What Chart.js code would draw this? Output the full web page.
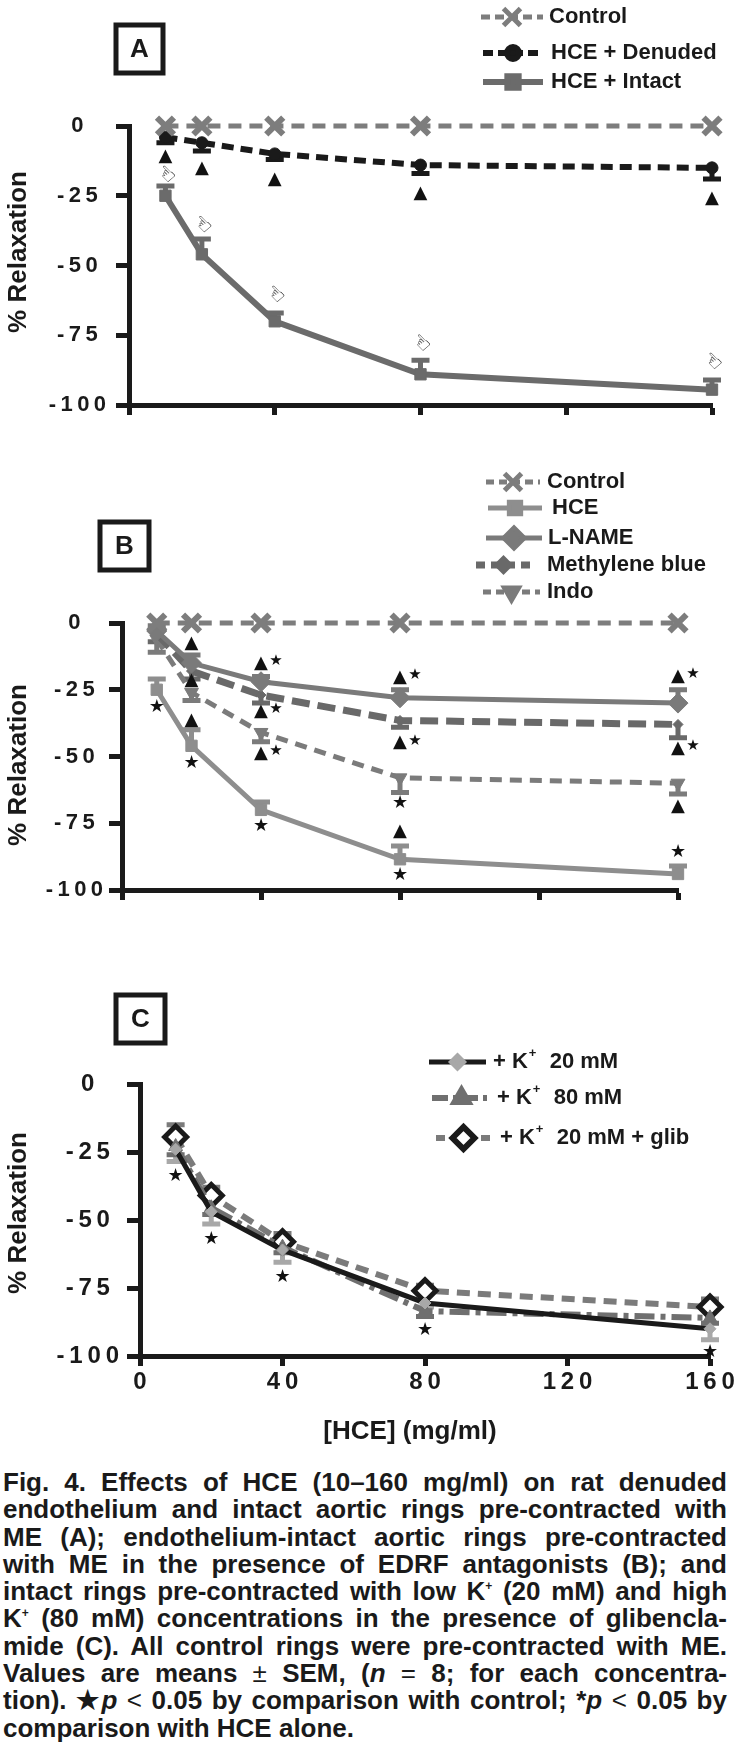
<!DOCTYPE html>
<html><head><meta charset="utf-8">
<script src="https://cdn.jsdelivr.net/npm/chart.js@4.4.1/dist/chart.umd.min.js"></script>
<style>
html,body{margin:0;padding:0;background:#fff;}
body{width:738px;height:1744px;position:relative;overflow:hidden;}
canvas{position:absolute;left:0;}
#cap{position:absolute;left:3px;top:1469px;width:724px;font-family:"Liberation Sans",Arial,sans-serif;font-weight:bold;font-size:26px;line-height:27.3px;color:#1a1a1a;}
#cap .j{text-align:justify;text-align-last:justify;}
#cap sup{font-size:12px;line-height:0;vertical-align:baseline;position:relative;top:-10px;}
#cap .m{font-weight:normal;}
</style></head><body>
<canvas id="cA" width="738" height="440" style="top:0"></canvas>
<canvas id="cB" width="738" height="470" style="top:440px"></canvas>
<canvas id="cC" width="738" height="550" style="top:910px"></canvas>
<div id="cap">
<div class="j">Fig. 4. Effects of HCE (10–160 mg/ml) on rat denuded</div>
<div class="j">endothelium and intact aortic rings pre-contracted with</div>
<div class="j">ME (A); endothelium-intact aortic rings pre-contracted</div>
<div class="j">with ME in the presence of EDRF antagonists (B); and</div>
<div class="j">intact rings pre-contracted with low K<sup>+</sup> (20 mM) and high</div>
<div class="j">K<sup>+</sup> (80 mM) concentrations in the presence of glibencla-</div>
<div class="j">mide (C). All control rings were pre-contracted with ME.</div>
<div class="j">Values are means <span class="m">±</span> SEM, (<i>n</i> <span class="m">=</span> 8; for each concentra-</div>
<div class="j">tion). ★<i>p</i> <span class="m">&lt;</span> 0.05 by comparison with control; *<i>p</i> <span class="m">&lt;</span> 0.05 by</div>
<div>comparison with HCE alone.</div>
</div>
<script>
// ---------- data ----------
const doses = [10, 20, 40, 80, 160];
const xTicks = [0, 40, 80, 120, 160];
const yTicks = [0, -25, -50, -75, -100];

// Panel A
const aControl = [0, 0, 0, 0, 0];
const aDenuded = [-4, -6, -10, -14, -15];
const aDenudedErr = [-6, -9, -12, -17, -19];
const aIntact = [-25, -46, -70, -89, -94.5];
const aIntactErr = [-21.5, -40.5, -67, -84, -91];
const aTriangles = [-11, -15, -19, -24, -26];
const aArrows = [-17.5, -35.5, -60.5, -78, -84.5];

// Panel B
const bControl = [0, 0, 0, 0, 0];
const bHCE = [-25, -46, -70, -88.5, -94];
const bHCEErr = [-21, -40, -67, -83.5, -91];
const bLNAME = [-3, -15, -22, -28, -30];
const bLNAMEErr = [-1, -12, -20, -25, -25];
const bMBlue = [-4, -18, -27, -36.5, -38];
const bMBlueErr = [-7, -21, -30, -39, -43];
const bIndo = [-6, -26, -41, -58, -60];
const bIndoErr = [-11, -29, -44.5, -63.5, -64];
const bMarkX = [10, 20, 20, 20, 20, 40, 40, 40, 40, 80, 80, 80, 80, 80, 160, 160, 160, 160];
const bMarkY = [-31.4, -7.5, -21.4, -36.4, -52.4, -15.2, -32.9, -48.9, -76.3, -20.2, -44.8, -67.6, -78.2, -94.4, -19.8, -47, -68.8, -86];
const bMarkKind = ['s', 't', 't', 't', 's', 'ts', 'ts', 'ts', 's', 'ts', 'ts', 's', 't', 's', 'ts', 'ts', 't', 's'];

// Panel C
const cK20 = [-24, -47, -61, -80.5, -90];
const cK20Err = [-28.5, -51.5, -65.5, -82, -94];
const cK80 = [-23, -45.5, -60, -83.5, -86];
const cK80Err = [-26, -48, -62, -85.5, -88];
const cGlib = [-19.5, -41, -58, -76, -82];
const cGlibErr = [-15, -38, -55, -74, -79];
const cStars = [-34, -57, -71, -90.5, -98.5];

// ---------- helpers ----------
const FONT = '"Liberation Sans", Arial, sans-serif';
const GLYPH = '"DejaVu Sans", sans-serif';
const INK = '#1a1a1a';
const spaced = v => String(v).split('').join('\u2009');

function series(label, vals, errs, style) {
  return Object.assign({
    label, data: doses.map((x, i) => ({x, y: vals[i]})), errs,
    clip: false, tension: 0, fill: false
  }, style);
}

function makeScales(o) {
  return {
    x: {
      type: 'linear', min: 0, max: 160,
      afterBuildTicks: s => { s.ticks = xTicks.map(v => ({value: v})); },
      afterFit: s => { s.height = o.xH; },
      ticks: { display: o.xLabels, font: {family: FONT, size: 24, weight: 'bold'}, color: INK,
               padding: 2, maxRotation: 0, autoSkip: false, callback: v => spaced(v) },
      grid: { display: true, drawOnChartArea: false, drawTicks: true, tickLength: 10, tickWidth: 5, tickColor: INK },
      border: { display: true, width: 5, color: INK }
    },
    y: {
      type: 'linear', min: -100, max: 0,
      afterBuildTicks: s => { s.ticks = yTicks.map(v => ({value: v})); },
      afterFit: s => { s.width = o.left; },
      ticks: { font: {family: FONT, size: o.yFont, weight: 'bold'}, color: INK, crossAlign: 'center',
               padding: o.yPad, callback: v => spaced(v) },
      grid: { display: true, drawOnChartArea: false, tickLength: 13, tickWidth: 5, tickColor: INK },
      border: { display: true, width: 5, color: INK }
    }
  };
}

const errPlugin = {
  id: 'errbars',
  beforeDatasetsDraw(chart) {
    const {ctx} = chart; const x = chart.scales.x, y = chart.scales.y;
    chart.data.datasets.forEach(ds => {
      if (!ds.errs) return;
      ctx.save();
      ctx.strokeStyle = ds.errColor || ds.borderColor; ctx.lineWidth = 5; ctx.setLineDash([]);
      ds.data.forEach((p, j) => {
        const e = ds.errs[j]; if (e == null) return;
        const px = x.getPixelForValue(p.x), py = y.getPixelForValue(p.y), pe = y.getPixelForValue(e);
        ctx.beginPath(); ctx.moveTo(px, py); ctx.lineTo(px, pe);
        ctx.moveTo(px - 9, pe); ctx.lineTo(px + 9, pe); ctx.stroke();
      });
      ctx.restore();
    });
  }
};

function glyph(ctx, kind, px, py) {
  ctx.fillStyle = '#111'; ctx.textAlign = 'center'; ctx.textBaseline = 'middle';
  if (kind === 't') { ctx.font = '18px ' + GLYPH; ctx.fillText('▲', px, py); }
  else if (kind === 's') { ctx.font = '18px ' + GLYPH; ctx.fillText('★', px, py); }
  else if (kind === 'ts') {
    ctx.font = '18px ' + GLYPH; ctx.fillText('▲', px, py);
    ctx.font = '15px ' + GLYPH; ctx.fillText('★', px + 15, py - 2);
  } else if (kind === 'a') {
    ctx.save(); ctx.translate(px, py); ctx.rotate(Math.PI / 4);
    ctx.font = '21px ' + GLYPH; ctx.fillStyle = '#000'; ctx.fillText('☜', 0, 0); ctx.restore();
  }
}

const marksPlugin = {
  id: 'marks',
  afterDatasetsDraw(chart, args, o) {
    const ctx = chart.ctx; const x = chart.scales.x, y = chart.scales.y;
    ctx.save();
    (o.items || []).forEach(m => glyph(ctx, m[2], x.getPixelForValue(m[0]), y.getPixelForValue(m[1])));
    ctx.restore();
  }
};

function drawLabel(ctx, text, tx, ty) {
  ctx.fillStyle = INK; ctx.textBaseline = 'middle'; ctx.textAlign = 'left';
  const parts = text.split('⁺');
  let cx = tx;
  parts.forEach((p, i) => {
    ctx.font = 'bold 22px ' + FONT; ctx.fillText(p, cx, ty); cx += ctx.measureText(p).width;
    if (i < parts.length - 1) {
      ctx.font = 'bold 13px ' + FONT; ctx.fillText('+', cx + 1, ty - 9); cx += ctx.measureText('+').width + 2;
    }
  });
}

const decoPlugin = {
  id: 'deco',
  afterDraw(chart, args, o) {
    const ctx = chart.ctx;
    ctx.save();
    if (o.box) {
      const b = o.box;
      ctx.lineWidth = 5; ctx.strokeStyle = INK; ctx.strokeRect(b.x, b.y, b.w, b.h);
      ctx.fillStyle = INK; ctx.font = 'bold 26px ' + FONT; ctx.textAlign = 'center'; ctx.textBaseline = 'middle';
      ctx.fillText(b.text, b.x + b.w / 2, b.y + b.h / 2 + 1);
    }
    if (o.ytitle) {
      ctx.save(); ctx.translate(o.ytitle.x, o.ytitle.y); ctx.rotate(-Math.PI / 2);
      ctx.fillStyle = INK; ctx.font = 'bold 26px ' + FONT; ctx.textAlign = 'center'; ctx.textBaseline = 'middle';
      ctx.fillText('% Relaxation', 0, 0); ctx.restore();
    }
    if (o.xtitle) {
      ctx.fillStyle = INK; ctx.font = 'bold 26px ' + FONT; ctx.textAlign = 'center'; ctx.textBaseline = 'middle';
      ctx.fillText(o.xtitle.text, o.xtitle.x, o.xtitle.y);
    }
    (o.legend || []).forEach(it => {
      const ds = chart.data.datasets[it.ds];
      ctx.save();
      ctx.strokeStyle = ds.borderColor; ctx.lineWidth = ds.borderWidth;
      ctx.setLineDash(it.dash || ds.borderDash || []);
      ctx.beginPath(); ctx.moveTo(it.x1, it.y); ctx.lineTo(it.x2, it.y); ctx.stroke();
      ctx.setLineDash([]);
      ctx.fillStyle = ds.pointBackgroundColor; ctx.strokeStyle = ds.pointBorderColor;
      Chart.helpers.drawPoint(ctx, {pointStyle: ds.pointStyle, rotation: ds.pointRotation || 0,
        radius: ds.pointRadius, borderWidth: ds.pointBorderWidth}, (it.x1 + it.x2) / 2, it.y);
      ctx.restore();
      drawLabel(ctx, ds.label, it.tx, it.y);
    });
    ctx.restore();
  }
};

function baseOptions(o) {
  return {
    responsive: false, animation: false, devicePixelRatio: 1, events: [],
    layout: { padding: { top: o.top, right: o.right, left: 0, bottom: 0 } },
    scales: makeScales(o),
    plugins: { legend: {display: false}, tooltip: {enabled: false}, deco: o.deco, marks: {items: o.marks} }
  };
}

// ---------- Panel A ----------
new Chart(document.getElementById('cA'), {
  type: 'line',
  data: { datasets: [
    series('Control', aControl, null, {borderColor: '#7d7d7d', borderWidth: 5, borderDash: [13, 8],
      pointStyle: 'crossRot', pointRadius: 12, pointBorderWidth: 6, pointBorderColor: '#7d7d7d', pointBackgroundColor: '#7d7d7d'}),
    series('HCE + Denuded', aDenuded, aDenudedErr, {borderColor: INK, borderWidth: 6, borderDash: [12, 7],
      pointStyle: 'circle', pointRadius: 6, pointBorderWidth: 1, pointBorderColor: INK, pointBackgroundColor: INK}),
    series('HCE + Intact', aIntact, aIntactErr, {borderColor: '#6b6b6b', borderWidth: 6, borderDash: [],
      pointStyle: 'rect', pointRadius: 8, pointBorderWidth: 1, pointBorderColor: '#6b6b6b', pointBackgroundColor: '#6b6b6b'})
  ]},
  options: baseOptions({
    top: 126, right: 26, left: 129, xH: 35, xLabels: false, yFont: 22, yPad: 10,
    marks: doses.flatMap((x, i) => [[x, aTriangles[i], 't'], [x, aArrows[i], 'a']]),
    deco: {
      box: {x: 116, y: 25, w: 47, h: 48, text: 'A'},
      ytitle: {x: 19, y: 252},
      legend: [
        {ds: 0, y: 17, x1: 481, x2: 543, tx: 549, dash: [9, 5]},
        {ds: 1, y: 53, x1: 483, x2: 543, tx: 551, dash: [10, 5]},
        {ds: 2, y: 82, x1: 483, x2: 543, tx: 551}
      ]
    }
  }),
  plugins: [errPlugin, marksPlugin, decoPlugin]
});

// ---------- Panel B ----------
new Chart(document.getElementById('cB'), {
  type: 'line',
  data: { datasets: [
    series('Control', bControl, null, {borderColor: '#7d7d7d', borderWidth: 5, borderDash: [13, 8],
      pointStyle: 'crossRot', pointRadius: 12, pointBorderWidth: 6, pointBorderColor: '#7d7d7d', pointBackgroundColor: '#7d7d7d'}),
    series('HCE', bHCE, bHCEErr, {borderColor: '#8e8e8e', borderWidth: 5, borderDash: [],
      pointStyle: 'rect', pointRadius: 8, pointBorderWidth: 1, pointBorderColor: '#8e8e8e', pointBackgroundColor: '#8e8e8e'}),
    series('L-NAME', bLNAME, bLNAMEErr, {borderColor: '#7a7a7a', borderWidth: 5, borderDash: [],
      pointStyle: 'rectRot', pointRadius: 10, pointBorderWidth: 1, pointBorderColor: '#7a7a7a', pointBackgroundColor: '#7a7a7a'}),
    series('Methylene blue', bMBlue, bMBlueErr, {borderColor: '#696969', borderWidth: 7, borderDash: [18, 8],
      pointStyle: 'rectRot', pointRadius: 5, pointBorderWidth: 1, pointBorderColor: '#696969', pointBackgroundColor: '#696969'}),
    series('Indo', bIndo, bIndoErr, {borderColor: '#7b7b7b', borderWidth: 5, borderDash: [12, 8],
      pointStyle: 'triangle', pointRotation: 180, pointRadius: 8, pointBorderWidth: 1, pointBorderColor: '#7b7b7b', pointBackgroundColor: '#7b7b7b'})
  ]},
  options: baseOptions({
    top: 183, right: 60, left: 122, xH: 20, xLabels: false, yFont: 22, yPad: 6,
    marks: bMarkX.map((x, i) => [x, bMarkY[i], bMarkKind[i]]),
    deco: {
      box: {x: 100, y: 82, w: 49, h: 48, text: 'B'},
      ytitle: {x: 19, y: 325},
      legend: [
        {ds: 0, y: 42, x1: 486, x2: 540, tx: 547, dash: [8, 5]},
        {ds: 1, y: 68, x1: 488, x2: 542, tx: 552},
        {ds: 2, y: 98, x1: 486, x2: 542, tx: 548},
        {ds: 3, y: 125, x1: 476, x2: 531, tx: 547, dash: [9, 6]},
        {ds: 4, y: 152, x1: 483, x2: 540, tx: 547, dash: [8, 5]}
      ]
    }
  }),
  plugins: [errPlugin, marksPlugin, decoPlugin]
});

// ---------- Panel C ----------
new Chart(document.getElementById('cC'), {
  type: 'line',
  data: { datasets: [
    series('+ K⁺  20 mM', cK20, cK20Err, {borderColor: INK, borderWidth: 5, borderDash: [], errColor: '#a8a8a8',
      pointStyle: 'rectRot', pointRadius: 6, pointBorderWidth: 1, pointBorderColor: '#a8a8a8', pointBackgroundColor: '#a8a8a8'}),
    series('+ K⁺  80 mM', cK80, cK80Err, {borderColor: '#6f6f6f', borderWidth: 6, borderDash: [20, 6, 5, 6],
      pointStyle: 'triangle', pointRadius: 8, pointBorderWidth: 1, pointBorderColor: '#6f6f6f', pointBackgroundColor: '#6f6f6f'}),
    series('+ K⁺  20 mM + glib', cGlib, cGlibErr, {borderColor: '#7b7b7b', borderWidth: 6, borderDash: [13, 8],
      pointStyle: 'rectRot', pointRadius: 11, pointBorderWidth: 5, pointBorderColor: INK, pointBackgroundColor: '#ffffff'})
  ]},
  options: baseOptions({
    top: 174, right: 28, left: 140, xH: 104, xLabels: true, yFont: 24, yPad: 8,
    marks: doses.map((x, i) => [x, cStars[i], 's']),
    deco: {
      box: {x: 116, y: 85, w: 49, h: 48, text: 'C'},
      ytitle: {x: 19, y: 303},
      xtitle: {x: 410, y: 522, text: '[HCE] (mg/ml)'},
      legend: [
        {ds: 0, y: 152, x1: 429, x2: 486, tx: 493},
        {ds: 1, y: 188, x1: 432, x2: 491, tx: 497, dash: [16, 5, 4, 5]},
        {ds: 2, y: 228, x1: 436, x2: 491, tx: 500, dash: [9, 6]}
      ]
    }
  }),
  plugins: [errPlugin, marksPlugin, decoPlugin]
});
</script>
</body></html>
